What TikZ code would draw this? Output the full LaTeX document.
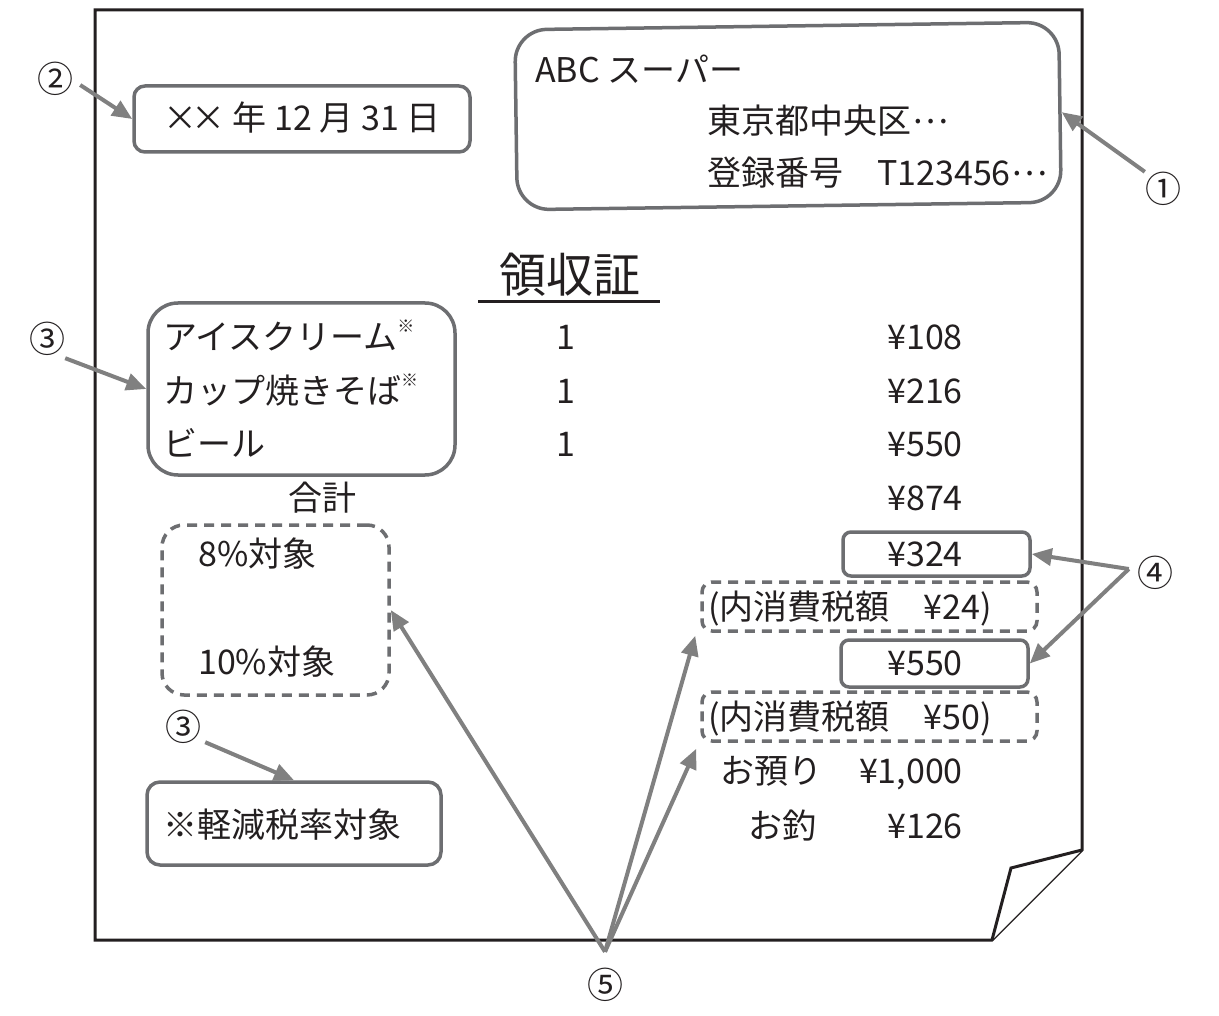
\documentclass[tikz,border=0pt]{standalone}
\usepackage{fontspec}
\setmainfont{Noto Sans CJK JP}
\usetikzlibrary{arrows.meta}
\definecolor{ink}{HTML}{231F20}
\definecolor{boxgray}{HTML}{6D6E71}
\definecolor{arrgray}{HTML}{808080}
\newcommand{\fsz}[1]{\fontsize{#1}{#1}\selectfont}
\newcommand{\kome}{\raisebox{0.5em}{\fsz{17}※}}
\newcommand{\jdots}{\kern1pt\raisebox{10pt}{…}}
\newcommand{\tms}{×\kern-6pt}
\begin{document}
\begin{tikzpicture}[x=1pt,y=-1pt,
  txt/.style={font=\fsz{34}, text=ink, inner sep=0pt, text height=30pt, text depth=4pt},
  ttl/.style={font=\fsz{47}, text=ink, inner sep=0pt, text height=41pt, text depth=6pt},
  cnum/.style={font=\fsz{36}, text=ink, inner sep=0pt, text height=31pt, text depth=5pt},
  sbox/.style={draw=boxgray, line width=3.5pt, rounded corners=#1, inner sep=0pt, fill=none},
  sbox/.default=10pt,
  dbox/.style={sbox=#1, dash pattern=on 10pt off 7pt},
  dbox/.default=10pt,
  arr/.style={draw=arrgray, line width=4pt, -{Triangle[length=20pt,width=17pt]}},
  paper/.style={draw=ink, line width=3pt, line join=miter}
]
\useasboundingbox (0,0) rectangle (1219,1016);
% paper
\draw[paper, fill=white] (95,10) -- (1082,10) -- (1082,850) -- (992,940) -- (95,940) -- cycle;
\draw[paper, fill=white] (1082,850) -- (1011,868) -- (992,940);

% boxes
\node[sbox=32pt, minimum width=544pt, minimum height=180pt, rotate=0.8] (b1) at (788,116) {};
\node[sbox=11pt, minimum width=336pt, minimum height=66pt] (b2) at (302,119) {};
\node[sbox=30pt, minimum width=307pt, minimum height=172pt] (b3) at (301.5,389) {};
\node[dbox=22pt, minimum width=227pt, minimum height=170pt] (d0) at (275.5,610) {};
\node[sbox=13pt, minimum width=294pt, minimum height=83pt] (bn) at (294,823.5) {};
\node[sbox=8pt, minimum width=187pt, minimum height=44pt] (b324) at (936.5,554) {};
\node[sbox=8pt, minimum width=187pt, minimum height=47pt] (b550) at (934.5,663.5) {};
\node[dbox=10pt, minimum width=335pt, minimum height=49pt] (d1) at (869.5,606.5) {};
\node[dbox=10pt, minimum width=335pt, minimum height=49pt] (d2) at (869.5,716.5) {};

% store
\node[txt, anchor=west] (store) at (535,70) {ABC スーパー};
\node[txt, anchor=west] (addr) at (707,121) {東京都中央区\jdots};
\node[txt, anchor=west] (reg) at (707,173) {登録番号　T123456\jdots};
% date
\node[txt, anchor=west] (date) at (163,118) {\tms\tms\kern6pt{} 年 12 月 31 日};
% title
\node[ttl] (title) at (570,275) {領収証};
\draw[ink, line width=3pt] (478,302) -- (660,302);
% items
\node[txt, anchor=west] (i1) at (163,337) {アイスクリーム\kome};
\node[txt, anchor=west] (i2) at (163,390) {カップ焼きそば\kome};
\node[txt, anchor=west] (i3) at (163,443) {ビール};
\node[txt] (q1) at (566,337) {1};
\node[txt] (q2) at (566,390) {1};
\node[txt] (q3) at (566,443) {1};
\node[txt, anchor=east] (p1) at (963,337) {¥108};
\node[txt, anchor=east] (p2) at (963,390) {¥216};
\node[txt, anchor=east] (p3) at (963,443) {¥550};
\node[txt] (gk) at (322,497) {合計};
\node[txt, anchor=east] (pt) at (963,497) {¥874};
\node[txt, anchor=west] (t8) at (198,553) {8\%対象};
\node[txt, anchor=west] (t10) at (198,661) {10\%対象};
\node[txt, anchor=east] (p8) at (963,553) {¥324};
\node[txt, anchor=west] (tax8) at (708,606) {(内消費税額　¥24)};
\node[txt, anchor=east] (p10) at (963,662) {¥550};
\node[txt, anchor=west] (tax10) at (708,716) {(内消費税額　¥50)};
\node[txt, anchor=west] (dep) at (720,770) {お預り};
\node[txt, anchor=east] (depv) at (963,770) {¥1,000};
\node[txt, anchor=west] (chg) at (748,825) {お釣};
\node[txt, anchor=east] (chgv) at (963,825) {¥126};
\node[txt, anchor=west] (note) at (163,824) {※軽減税率対象};

% circled numbers
\node[cnum] (c1) at (1163,190) {①};
\node[cnum] (c2) at (55,80) {②};
\node[cnum] (c3a) at (47,340) {③};
\node[cnum] (c3b) at (183,727) {③};
\node[cnum] (c4) at (1155,573) {④};
\node[cnum] (c5) at (605,985) {⑤};

% arrows
\draw[arr] (c1.north west) -- (b1.east);
\draw[arr] ([xshift=7pt,yshift=-5pt]c2.east) -- (b2.west);
\draw[arr] (c3a.south east) -- (b3.west);
\draw[arr] ([xshift=4pt,yshift=3pt]c3b.south east) -- (bn.north);
\draw[arr] ([xshift=-8pt,yshift=4pt]c4.west) -- (b324.east);
\draw[arr] ([xshift=-8pt,yshift=4pt]c4.west) -- (b550.east);
\draw[arr] ([yshift=15pt]c5.north) -- (d0.east);
\draw[arr] ([yshift=15pt]c5.north) -- ([xshift=-5pt,yshift=-3pt]d1.south west);
\draw[arr] ([yshift=15pt]c5.north) -- ([xshift=-4pt,yshift=-6pt]d2.south west);
\end{tikzpicture}
\end{document}
